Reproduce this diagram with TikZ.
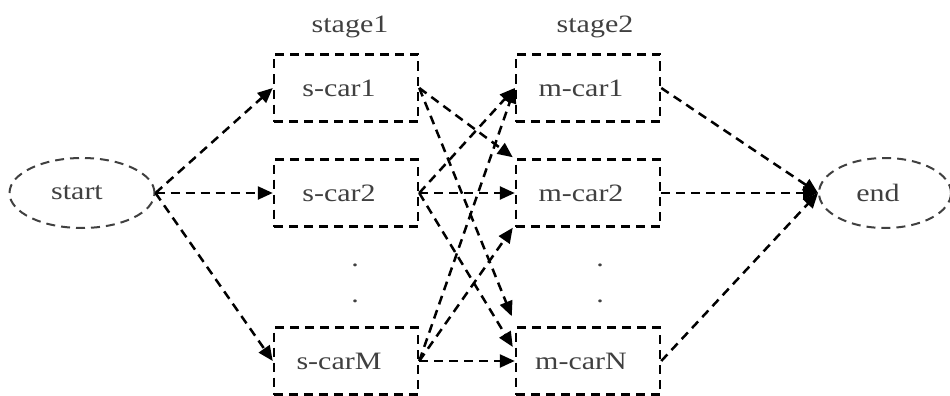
\documentclass[tikz,border=0pt]{standalone}
\usepackage{fontspec}
\setmainfont{Liberation Serif}[FakeStretch=1.2]
\usetikzlibrary{arrows.meta,shapes.geometric,calc}
\begin{document}
\begin{tikzpicture}[x=1pt,y=-1pt,
  txt/.style={text=black!75, font=\fontsize{25}{30}\selectfont},
  conn/.style={draw, line width=2.5pt, dash pattern=on 9pt off 6pt, -{Triangle[length=15pt,width=13pt]}},
  box/.style={draw, line width=2.5pt, dash pattern=on 9pt off 6pt, minimum width=144pt, minimum height=67pt, inner sep=0pt, txt, execute at end node=\hspace{14pt}},
  oval/.style={ellipse, draw=black!75, line width=2pt, dash pattern=on 9pt off 6pt, inner sep=0pt, txt},
  dotlbl/.style={txt, anchor=base, inner sep=0pt}]
\useasboundingbox (0,0) rectangle (950,396);
\clip (0,0) rectangle (950,396);
\node[oval, minimum width=145pt, minimum height=70pt, execute at end node=\hspace{10pt}] (start) at (82,193) {start};
\node[oval, minimum width=132pt, minimum height=70pt, execute at end node=\hspace{14pt}] (end) at (885,193) {end};
\node[box] (s1) at (346,88) {s-car1};
\node[box] (s2) at (346,193) {s-car2};
\node[box] (sM) at (346,361) {s-carM};
\node[box] (m1) at (588,88) {m-car1};
\node[box] (m2) at (588,193) {m-car2};
\node[box] (mN) at (588,361) {m-carN};
\node[txt] (st1) at (350,27) {stage1};
\node[txt] (st2) at (595,27) {stage2};
\node[dotlbl] (d1) at (355,266) {.};
\node[dotlbl] (d2) at (355,302) {.};
\node[dotlbl] (d3) at (600,266) {.};
\node[dotlbl] (d4) at (600,302) {.};
\draw[conn] (start.east) -- (s1.west);
\draw[conn] (start.east) -- (s2.west);
\draw[conn] (start.east) -- (sM.west);
\draw[conn] (s1.east) -- ($(m2.north west)+(-2,-1)$);
\draw[conn] (s1.east) -- ($(mN.north west)+(-3,-10)$);
\draw[conn] (s2.east) -- (m1.west);
\draw[conn] (s2.east) -- (m2.west);
\draw[conn] (s2.east) -- ($(mN.west)+(-2,-14)$);
\draw[conn] (sM.east) -- (m1.west);
\draw[conn] (sM.east) -- ($(m2.south west)+(-2,0)$);
\draw[conn] (sM.east) -- (mN.west);
\draw[conn] (m1.east) -- (end.west);
\draw[conn] (m2.east) -- (end.west);
\draw[conn] (mN.east) -- (end.west);
\end{tikzpicture}
\end{document}
